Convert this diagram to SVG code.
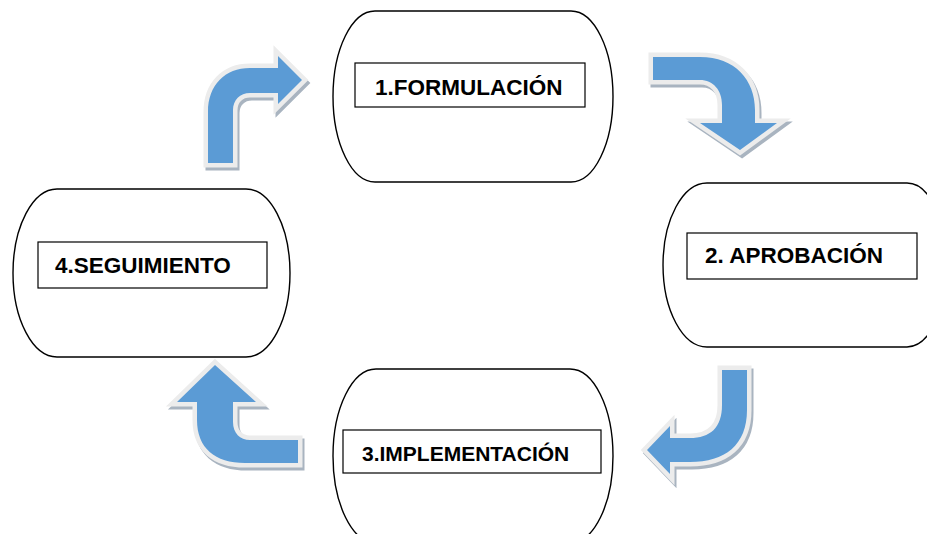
<svg xmlns="http://www.w3.org/2000/svg" xmlns:xlink="http://www.w3.org/1999/xlink" width="927" height="534" viewBox="0 0 927 534">
<style>
.node{fill:#fff;stroke:#000;stroke-width:1.4}
.box{fill:#fff;stroke:#000;stroke-width:1.2}
.lbl{font-family:"Liberation Sans",Arial,sans-serif;font-weight:bold;font-size:22.5px;fill:#000}
.shadow{fill:#a9b4c0;stroke:#a9b4c0;stroke-width:9;stroke-linejoin:miter}
.rim{fill:#ececec;stroke:#ececec;stroke-width:9;stroke-linejoin:miter}
.body{fill:#5b9bd5}
</style>
<defs>
<path id="a1" d="M208,163 V112 C208,85 225,68 250,68 H278 V56 L302,80 L278,104 V93 H250 C240,93 233,100 233,110 V163 Z"/>
<path id="a2" d="M653,57 H700 C735,57 755,80 755,110 V123 H777 L740,150 L700,123 H722 V105 C722,90 713,80 700,80 H653 Z"/>
<path id="a3" d="M747,370 V410 C747,445 725,462 690,462 H670 V474 L647,450 L670,426 V438 H690 C710,438 722,428 722,405 V370 Z"/>
<path id="a4" d="M298,440 H250 C240,440 233,433 233,422 V402 H256 L215,365 L177,402 H197 V420 C197,448 215,463 245,463 H298 Z"/>
</defs>
<g id="connectors">
<g id="arrow1"><use xlink:href="#a1" class="shadow" transform="translate(2,3)"/><use xlink:href="#a1" class="rim"/><use xlink:href="#a1" class="body"/></g>
<g id="arrow2"><use xlink:href="#a2" class="shadow" transform="translate(2,3)"/><use xlink:href="#a2" class="rim"/><use xlink:href="#a2" class="body"/></g>
<g id="arrow3"><use xlink:href="#a3" class="shadow" transform="translate(2,3)"/><use xlink:href="#a3" class="rim"/><use xlink:href="#a3" class="body"/></g>
<g id="arrow4"><use xlink:href="#a4" class="shadow" transform="translate(2,3)"/><use xlink:href="#a4" class="rim"/><use xlink:href="#a4" class="body"/></g>
</g>
<g id="node1">
<path class="node" d="M375,11 H571 A42,85.5 0 0 1 571,182 H375 A42,85.5 0 0 1 375,11 Z"/>
<rect class="box" x="355" y="63" width="230" height="44"/>
<text class="lbl" x="375" y="95">1.FORMULACIÓN</text>
</g>
<g id="node2">
<path class="node" d="M707,183 H907 A40,82 0 0 1 907,347 H707 A44,82 0 0 1 707,183 Z"/>
<rect class="box" x="687" y="233" width="230" height="46"/>
<text class="lbl" x="705" y="263">2. APROBACIÓN</text>
</g>
<g id="node3">
<path class="node" d="M376,369 H570 A43,87 0 0 1 570,543 H376 A43,87 0 0 1 376,369 Z"/>
<rect class="box" x="343" y="430" width="258" height="43"/>
<text class="lbl" x="362" y="461" style="font-size:21px">3.IMPLEMENTACIÓN</text>
</g>
<g id="node4">
<path class="node" d="M57,189 H246 A44,84 0 0 1 246,357 H57 A44,84 0 0 1 57,189 Z"/>
<rect class="box" x="38" y="242" width="229" height="46"/>
<text class="lbl" x="55" y="273">4.SEGUIMIENTO</text>
</g>
</svg>
